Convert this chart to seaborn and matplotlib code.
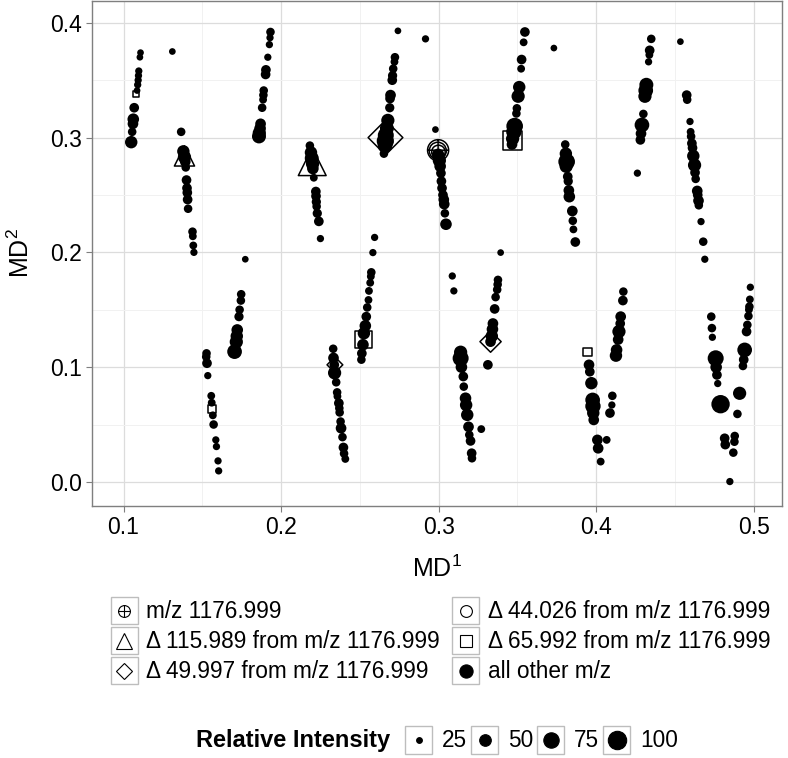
import numpy as np
import matplotlib
matplotlib.use('Agg')
import matplotlib.pyplot as plt
from matplotlib.lines import Line2D
from matplotlib.patches import Rectangle
from matplotlib.path import Path
from matplotlib.legend_handler import HandlerBase
from matplotlib.ticker import MultipleLocator, FormatStrFormatter
import seaborn as sns

# ── data: mass defect coordinates and relative intensity ─────────────────────
other_md1 = [
    0.1108, 0.1104, 0.1097, 0.1095, 0.1093, 0.1090, 0.1086, 0.1068, 0.1062, 0.1060, 0.1055, 0.1049, 0.1310,
    0.1366, 0.1380, 0.1387, 0.1392, 0.1395, 0.1400, 0.1403, 0.1405, 0.1407, 0.1410, 0.1438, 0.1440, 0.1443, 0.1447,
    0.1933, 0.1930, 0.1926, 0.1916, 0.1904, 0.1902, 0.1890, 0.1888, 0.1886, 0.1880, 0.1870, 0.1867, 0.1862, 0.1860,
    0.2183, 0.2190, 0.2195, 0.2200, 0.2202, 0.2208, 0.2221, 0.2222, 0.2224, 0.2226, 0.2230, 0.2240, 0.2250,
    0.2742, 0.2723, 0.2720, 0.2712, 0.2708, 0.2706, 0.2695, 0.2692, 0.2690, 0.2678, 0.2672, 0.2665, 0.2662, 0.2660, 0.2653, 0.2917,
    0.2980, 0.2997, 0.3005, 0.3010, 0.3015, 0.3018, 0.3022, 0.3028, 0.3033, 0.3036, 0.3040, 0.3047,
    0.3548, 0.3540, 0.3527, 0.3524, 0.3512, 0.3505, 0.3497, 0.3494, 0.3483, 0.3478, 0.3470, 0.3466, 0.3732,
    0.3804, 0.3808, 0.3813, 0.3810, 0.3820, 0.3823, 0.3827, 0.3830, 0.3849, 0.3852, 0.3856, 0.3868,
    0.4350, 0.4340, 0.4338, 0.4333, 0.4319, 0.4315, 0.4310, 0.4300, 0.4291, 0.4285, 0.4281, 0.4262, 0.4535,
    0.4575, 0.4578, 0.4596, 0.4600, 0.4603, 0.4608, 0.4612, 0.4617, 0.4625, 0.4628, 0.4632, 0.4642, 0.4645, 0.4650, 0.4652, 0.4666, 0.4680, 0.4690,
    0.1527, 0.1525, 0.1530, 0.1535, 0.1557, 0.1560, 0.1567, 0.1572, 0.1586, 0.1590, 0.1600, 0.1604,
    0.1773, 0.1747, 0.1745, 0.1737, 0.1733, 0.1722, 0.1719, 0.1716, 0.1705,
    0.2331, 0.2333, 0.2338, 0.2340, 0.2350, 0.2356, 0.2358, 0.2367, 0.2370, 0.2372, 0.2378, 0.2381, 0.2390, 0.2396, 0.2400, 0.2408,
    0.2594, 0.2583, 0.2573, 0.2570, 0.2566, 0.2558, 0.2555, 0.2547, 0.2541, 0.2535, 0.2526, 0.2520, 0.2513, 0.2510,
    0.3140, 0.3140, 0.3145, 0.3157, 0.3160, 0.3171, 0.3175, 0.3182, 0.3190, 0.3195, 0.3203, 0.3210, 0.3212, 0.3271, 0.3087, 0.3097,
    0.3394, 0.3377, 0.3375, 0.3372, 0.3362, 0.3356, 0.3345, 0.3342, 0.3338, 0.3330, 0.3313,
    0.3955, 0.3960, 0.3970, 0.3978, 0.3980, 0.3982, 0.3985, 0.4008, 0.4013, 0.4029, 0.4103, 0.4100, 0.4088, 0.4067,
    0.4173, 0.4170, 0.4156, 0.4153, 0.4145, 0.4140, 0.4130, 0.4126,
    0.4731, 0.4735, 0.4738, 0.4759, 0.4762, 0.4767, 0.4772, 0.4790, 0.4816, 0.4820, 0.4849, 0.4911, 0.4897, 0.4880, 0.4878, 0.4871,
    0.4979, 0.4976, 0.4973, 0.4970, 0.4967, 0.4960, 0.4955, 0.4943, 0.4937, 0.4932,
]
other_md2 = [
    0.374, 0.370, 0.358, 0.354, 0.350, 0.346, 0.341, 0.326, 0.316, 0.312, 0.305, 0.296, 0.375,
    0.305, 0.288, 0.283, 0.279, 0.274, 0.263, 0.256, 0.252, 0.246, 0.238, 0.218, 0.214, 0.206, 0.200,
    0.392, 0.387, 0.381, 0.370, 0.359, 0.355, 0.341, 0.337, 0.333, 0.326, 0.312, 0.308, 0.304, 0.301,
    0.293, 0.287, 0.282, 0.277, 0.273, 0.265, 0.253, 0.249, 0.244, 0.240, 0.234, 0.227, 0.212,
    0.393, 0.370, 0.366, 0.360, 0.354, 0.350, 0.337, 0.334, 0.326, 0.315, 0.308, 0.302, 0.297, 0.293, 0.286, 0.386,
    0.307, 0.285, 0.280, 0.275, 0.269, 0.262, 0.256, 0.250, 0.246, 0.242, 0.234, 0.2245,
    0.392, 0.383, 0.368, 0.360, 0.344, 0.336, 0.3255, 0.321, 0.310, 0.305, 0.299, 0.294, 0.378,
    0.294, 0.286, 0.279, 0.275, 0.266, 0.262, 0.254, 0.2485, 0.236, 0.2275, 0.220, 0.209,
    0.386, 0.376, 0.372, 0.366, 0.346, 0.341, 0.336, 0.3206, 0.311, 0.3035, 0.298, 0.269, 0.3836,
    0.337, 0.333, 0.314, 0.305, 0.301, 0.295, 0.291, 0.284, 0.276, 0.2695, 0.264, 0.2535, 0.250, 0.245, 0.241, 0.2268, 0.2093, 0.194,
    0.112, 0.109, 0.1034, 0.0926, 0.075, 0.069, 0.058, 0.050, 0.0366, 0.0308, 0.0183, 0.0096,
    0.194, 0.1635, 0.158, 0.150, 0.144, 0.1324, 0.127, 0.122, 0.1135,
    0.116, 0.108, 0.102, 0.095, 0.0868, 0.078, 0.0745, 0.0686, 0.0642, 0.0605, 0.0526, 0.0468, 0.039, 0.030, 0.0247, 0.020,
    0.213, 0.1998, 0.1826, 0.179, 0.1735, 0.1664, 0.1585, 0.152, 0.144, 0.136, 0.1295, 0.1195, 0.112, 0.1065,
    0.113, 0.1077, 0.100, 0.0918, 0.083, 0.0729, 0.067, 0.0584, 0.048, 0.041, 0.0357, 0.025, 0.0206, 0.046, 0.1794, 0.1664,
    0.1998, 0.176, 0.172, 0.1675, 0.161, 0.1507, 0.138, 0.133, 0.127, 0.1222, 0.102,
    0.102, 0.096, 0.086, 0.0714, 0.066, 0.060, 0.054, 0.0366, 0.0293, 0.0177, 0.075, 0.067, 0.060, 0.0366,
    0.1658, 0.158, 0.144, 0.138, 0.131, 0.124, 0.115, 0.110,
    0.144, 0.134, 0.126, 0.1077, 0.100, 0.0932, 0.0857, 0.0677, 0.038, 0.0325, 0.0003, 0.0772, 0.0592, 0.040, 0.035, 0.0255,
    0.1696, 0.159, 0.1527, 0.150, 0.1445, 0.1368, 0.131, 0.115, 0.1065, 0.101,
]
other_int = [
    28, 28, 30, 30, 30, 30, 28, 40, 50, 45, 35, 55, 28,
    35, 55, 60, 45, 35, 40, 40, 40, 40, 35, 35, 32, 32, 30,
    35, 30, 30, 30, 40, 40, 35, 35, 32, 35, 45, 50, 60, 65,
    35, 55, 65, 60, 50, 32, 40, 40, 38, 35, 38, 40, 30,
    28, 35, 32, 35, 38, 40, 45, 40, 38, 60, 65, 80, 90, 70, 35, 30,
    28, 55, 60, 50, 40, 40, 40, 40, 45, 45, 35, 50,
    40, 32, 40, 32, 55, 60, 35, 35, 85, 75, 60, 45, 28,
    35, 55, 85, 60, 40, 38, 45, 50, 45, 35, 32, 40,
    35, 40, 32, 30, 65, 70, 60, 35, 70, 45, 40, 30, 28,
    40, 35, 30, 32, 35, 40, 40, 55, 60, 40, 35, 45, 40, 45, 35, 30, 35, 30,
    35, 35, 40, 30, 32, 32, 32, 35, 30, 30, 30, 30,
    28, 35, 35, 35, 38, 50, 55, 60, 70,
    35, 45, 40, 60, 35, 35, 32, 40, 35, 35, 35, 45, 35, 40, 35, 32,
    30, 30, 35, 32, 32, 32, 32, 35, 40, 50, 55, 50, 40, 35,
    60, 80, 50, 40, 35, 50, 55, 55, 45, 35, 40, 40, 35, 32, 30, 30,
    28, 35, 35, 35, 35, 40, 45, 50, 55, 45, 40,
    45, 40, 55, 70, 75, 55, 45, 45, 45, 32, 35, 30, 40, 32,
    35, 40, 45, 40, 60, 45, 50, 55,
    35, 35, 30, 80, 50, 40, 30, 100, 40, 40, 30, 60, 35, 35, 35, 35,
    30, 32, 35, 32, 35, 35, 40, 70, 40, 35,
]

# m/z 1176.999 and the related ions
parent_md1, parent_md2, parent_int = [0.2997], [0.289], [95]
d44_md1, d44_md2, d44_int = [0.2995, 0.2999], [0.2885, 0.2875], [70, 50]
d116_md1, d116_md2, d116_int = [0.1387, 0.2198], [0.284, 0.279], [57, 93]
d50_md1, d50_md2, d50_int = [0.2342, 0.2663, 0.3330], [0.102, 0.300, 0.1222], [33, 95, 46]
d66_md1 = [0.1080, 0.1563, 0.2522, 0.3472, 0.3946]
d66_md2 = [0.338, 0.0636, 0.1237, 0.2975, 0.113]
d66_int = [26, 29, 77, 92, 32]

size_ticks = [25, 50, 75, 100]

# ── style ────────────────────────────────────────────────────────────────────
sns.set_style('white')
plt.rcParams['font.family'] = ['Liberation Sans', 'DejaVu Sans']
plt.rcParams['mathtext.fontset'] = 'custom'
plt.rcParams['mathtext.rm'] = 'Liberation Sans'
plt.rcParams['text.color'] = 'black'
plt.rcParams['axes.labelcolor'] = 'black'

SIZES = (17, 175)
NORM = (25, 100)


def dot_area(v):
    return SIZES[0] + (v - NORM[0]) / (NORM[1] - NORM[0]) * (SIZES[1] - SIZES[0])


oplus = Path.make_compound_path(Path.unit_circle(),
                                Path([(-1, 0), (1, 0)]),
                                Path([(0, -1), (0, 1)]))

fig = plt.figure(figsize=(7.88, 7.58), dpi=100)
ax = fig.add_axes([92 / 788, 1 - 506 / 758, 690 / 788, 505 / 758])

# all other m/z (filled dots)
sns.scatterplot(x=other_md1, y=other_md2, size=other_int, sizes=SIZES,
                size_norm=NORM, color='black', edgecolor='none', linewidth=0,
                legend=False, ax=ax, zorder=3)

# open shapes for the selected ions
open_sets = [
    (d66_md1, d66_md2, d66_int, 's', 1.2),
    (d50_md1, d50_md2, d50_int, 'D', 1.9),
    (d116_md1, d116_md2, d116_int, '^', 2.5),
    (d44_md1, d44_md2, d44_int, 'o', 1.35),
    (parent_md1, parent_md2, parent_int, oplus, 1.4),
]
for mx, my, mi, mk, f in open_sets:
    sns.scatterplot(x=mx, y=my, size=mi, sizes=(SIZES[0] * f, SIZES[1] * f),
                    size_norm=NORM, marker=mk, color='black',
                    facecolor='none', edgecolor='black', linewidth=1.1,
                    legend=False, ax=ax, zorder=4)

ax.set_xlim(0.080, 0.518)
ax.set_ylim(-0.021, 0.419)
ax.xaxis.set_major_locator(MultipleLocator(0.1))
ax.xaxis.set_minor_locator(MultipleLocator(0.05))
ax.yaxis.set_major_locator(MultipleLocator(0.1))
ax.yaxis.set_minor_locator(MultipleLocator(0.05))
ax.xaxis.set_major_formatter(FormatStrFormatter('%.1f'))
ax.yaxis.set_major_formatter(FormatStrFormatter('%.1f'))
ax.grid(which='major', color='#DCDCDC', linewidth=0.9)
ax.grid(which='minor', color='#F1F1F1', linewidth=0.7)
ax.set_axisbelow(True)
ax.tick_params(which='major', length=4, width=0.8, color='#7F7F7F',
               labelsize=16.5, labelcolor='black', pad=3,
               bottom=True, left=True)
ax.tick_params(which='minor', length=0)
for sp in ax.spines.values():
    sp.set_color('#7F7F7F')
    sp.set_linewidth(1.0)

ax.set_xlabel('MD$^{\\mathregular{1}}$', fontsize=18, labelpad=12)
ax.set_ylabel('MD$^{\\mathregular{2}}$', fontsize=18, labelpad=12)


# ── legends with boxed keys (ggplot look) ────────────────────────────────────
class BoxedKey(HandlerBase):
    def create_artists(self, legend, orig_handle, xdescent, ydescent,
                       width, height, fontsize, trans):
        side = height
        x0 = -xdescent + (width - side) / 2
        y0 = -ydescent
        box = Rectangle((x0, y0), side, side, facecolor='white',
                        edgecolor='#BDBDBD', linewidth=1.0, transform=trans)
        mark = Line2D([x0 + side / 2], [y0 + side / 2], linestyle='none',
                      marker=orig_handle.get_marker(),
                      markersize=orig_handle.get_markersize(),
                      markerfacecolor=orig_handle.get_markerfacecolor(),
                      markeredgecolor=orig_handle.get_markeredgecolor(),
                      markeredgewidth=orig_handle.get_markeredgewidth(),
                      transform=trans)
        return [box, mark]


def key(marker, ms, filled=False):
    return Line2D([], [], linestyle='none', marker=marker, markersize=ms,
                  markerfacecolor='black' if filled else 'none',
                  markeredgecolor='black', markeredgewidth=0.8)


shape_handles = [key(oplus, 8.5), key('^', 11.0), key('D', 8.0),
                 key('o', 8.5), key('s', 8.5), key('o', 9.5, filled=True)]
shape_labels = ['m/z 1176.999', 'Δ 115.989 from m/z 1176.999',
                'Δ 49.997 from m/z 1176.999', 'Δ 44.026 from m/z 1176.999',
                'Δ 65.992 from m/z 1176.999', 'all other m/z']
fig.legend(shape_handles, shape_labels, ncol=2, loc='upper left',
           bbox_to_anchor=(107.5 / 788, 1 - 597 / 758), frameon=False,
           fontsize=16.3, handlelength=1.46, handleheight=1.46,
           handletextpad=0.25, columnspacing=0.4, labelspacing=0.14,
           borderpad=0, borderaxespad=0,
           handler_map={Line2D: BoxedKey()})

size_handles = [key('o', np.sqrt(dot_area(v)), filled=True) for v in size_ticks]
fig.legend(size_handles, [str(v) for v in size_ticks], ncol=4,
           loc='center left', bbox_to_anchor=(402 / 788, 1 - 740 / 758),
           frameon=False, fontsize=16.3, handlelength=1.46, handleheight=1.46,
           handletextpad=0.3, columnspacing=0.05, borderpad=0,
           borderaxespad=0, handler_map={Line2D: BoxedKey()})
fig.text(390 / 788, 1 - 740 / 758, 'Relative Intensity', ha='right',
         va='center', fontsize=17, fontweight='bold')

fig.savefig('out.png', dpi=100)
